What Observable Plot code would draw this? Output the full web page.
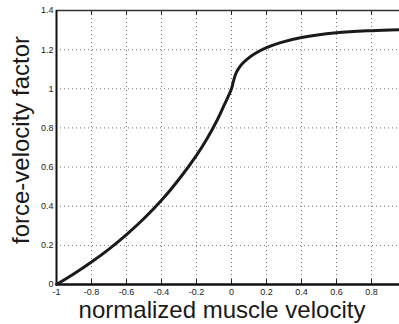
<!DOCTYPE html>
<html>
<head>
<meta charset="utf-8">
<script src="https://cdn.jsdelivr.net/npm/d3@7"></script>
<script src="https://cdn.jsdelivr.net/npm/@observablehq/plot@0.6"></script>
<style>
  html, body { margin: 0; padding: 0; background: #fff; overflow: hidden; }
  #chart svg { overflow: hidden; }
</style>
</head>
<body>
<div id="chart"></div>
<script>
// Data
const velocity = [-1, -0.9, -0.8, -0.7, -0.6, -0.5, -0.4, -0.3, -0.2, -0.14, -0.08, -0.04, 0, 0.01, 0.025, 0.04, 0.06, 0.09, 0.13, 0.2, 0.28, 0.4, 0.6, 0.8, 1.0];
const forceFactor = [0, 0.055, 0.115, 0.181, 0.255, 0.337, 0.43, 0.538, 0.66, 0.745, 0.843, 0.92, 1.0, 1.035, 1.078, 1.103, 1.127, 1.152, 1.178, 1.21, 1.236, 1.262, 1.286, 1.297, 1.303];
const xTicks = [-1, -0.8, -0.6, -0.4, -0.2, 0, 0.2, 0.4, 0.6, 0.8];
const yTicks = [0, 0.2, 0.4, 0.6, 0.8, 1, 1.2, 1.4];
const xLabel = "normalized muscle velocity";
const yLabel = "force-velocity factor";

const data = velocity.map((v, i) => ({v, f: forceFactor[i]}));
const xGrid = xTicks.filter(d => d !== -1);
const yGrid = yTicks.filter(d => d !== 0 && d !== 1.4);
const font = "'Liberation Sans', Arial, Helvetica, sans-serif";

const plot = Plot.plot({
  width: 399,
  height: 324,
  marginLeft: 56,
  marginTop: 10,
  marginBottom: 40,
  marginRight: 0,
  style: {fontFamily: font, fontSize: "9px", color: "#222", background: "#fff"},
  x: {domain: [-1, 1], range: [56, 406]},
  y: {domain: [0, 1.4]},
  marks: [
    Plot.ruleX(xGrid, {stroke: "#777", strokeWidth: 1, strokeDasharray: "1,3"}),
    Plot.ruleY(yGrid, {stroke: "#777", strokeWidth: 1, strokeDasharray: "1,3"}),
    // inward ticks (bottom and top)
    Plot.ruleX(xGrid, {y1: 0, y2: 0.025, stroke: "#222", strokeWidth: 1}),
    Plot.ruleX(xGrid, {y1: 1.4, y2: 1.375, stroke: "#222", strokeWidth: 1}),
    // box lines
    Plot.ruleY([1.4], {stroke: "#333", strokeWidth: 1.5}),
    Plot.ruleX([-1], {stroke: "#111", strokeWidth: 2}),
    Plot.ruleY([0], {stroke: "#111", strokeWidth: 2.5}),
    Plot.line(data, {x: "v", y: "f", stroke: "#1a1a1a", strokeWidth: 3, curve: "catmull-rom"}),
    Plot.axisX({ticks: xTicks, tickSize: 0, tickPadding: 4, label: null, tickFormat: d => String(d)}),
    Plot.axisY({ticks: yTicks, tickSize: 0, tickPadding: 3, label: null, tickFormat: d => String(d)})
  ]
});

const svg = d3.select(plot);
svg.append("text")
  .attr("x", 222).attr("y", 318)
  .attr("text-anchor", "middle")
  .attr("font-family", font)
  .attr("font-size", 24)
  .attr("fill", "#1a1a1a")
  .text(xLabel);
svg.append("text")
  .attr("transform", "translate(29,140) rotate(-90)")
  .attr("text-anchor", "middle")
  .attr("font-family", font)
  .attr("font-size", 24)
  .attr("fill", "#1a1a1a")
  .text(yLabel);

document.getElementById("chart").appendChild(plot);
</script>
</body>
</html>
